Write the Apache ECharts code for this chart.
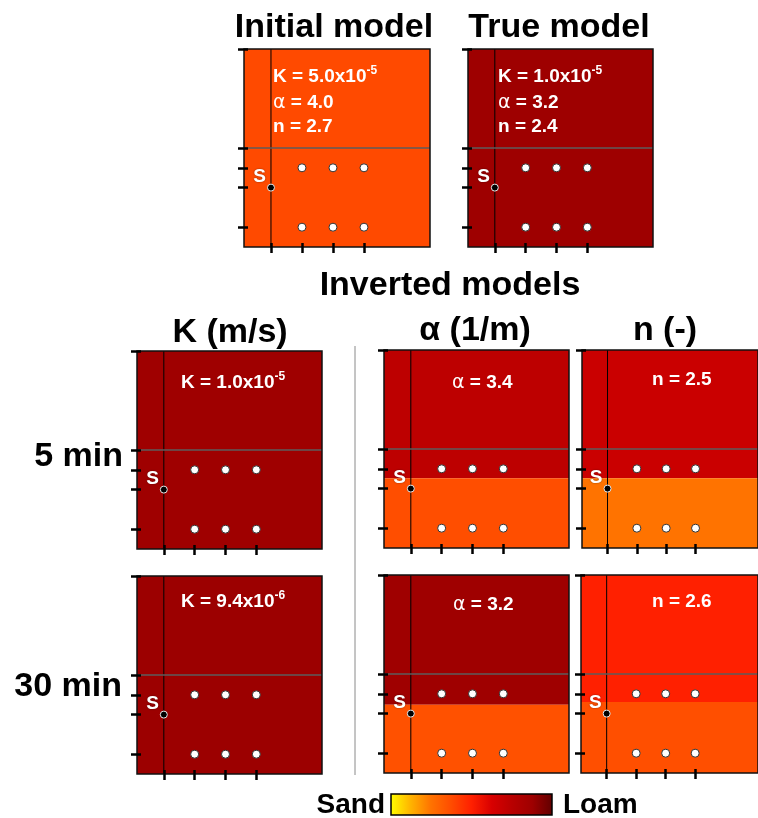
<!DOCTYPE html>
<html>
<head>
<meta charset="utf-8">
<script src="https://cdn.jsdelivr.net/npm/echarts@6/dist/echarts.min.js"></script>
<style>
  html, body { margin: 0; padding: 0; background: #fff; }
  #chart { width: 758px; height: 818px; }
</style>
</head>
<body>
<div id="chart"></div>
<script>
// colour scale, Sand (0) -> Loam (1)
var scaleColors = ['#ffff00', '#ffb400', '#ff7300', '#ff4c00', '#ff2000', '#d80000', '#b80000', '#9e0000', '#600000'];

// model coordinates: horizontal -0.87 .. 5.13, depth -5 .. 5
var xTicks = [0, 1, 2, 3];
var yTicks = [-5, 0, 1, 2, 4];
var receiverX = [1, 2, 3];
var receiverDepth = [1, 4];
var sourcePos = [0, 2];
var surfaceDepth = 0;

// layers per panel: [top depth, bottom depth, scale value]
var initialLayers = [[-5, 5, 0.38]];
var trueLayers = [[-5, 5, 0.875]];
var k5Layers = [[-5, 5, 0.87]];
var a5Layers = [[-5, 1.48, 0.73], [1.48, 5, 0.37]];
var n5Layers = [[-5, 1.48, 0.68], [1.48, 5, 0.25]];
var k30Layers = [[-5, 5, 0.88]];
var a30Layers = [[-5, 1.55, 0.87], [1.55, 5, 0.36]];
var n30Layers = [[-5, 1.41, 0.5], [1.41, 5, 0.365]];

var xMin = -0.87, xMax = 5.13, yMin = -5, yMax = 5;

var panels = [
  { left: 244, top: 49, width: 186, layers: initialLayers },
  { left: 468, top: 49, width: 185, layers: trueLayers },
  { left: 137, top: 351, width: 185, layers: k5Layers },
  { left: 384, top: 350, width: 185, layers: a5Layers },
  { left: 582, top: 350, width: 185, layers: n5Layers },
  { left: 137, top: 576, width: 185, layers: k30Layers },
  { left: 384, top: 575, width: 185, layers: a30Layers },
  { left: 581, top: 575, width: 185, layers: n30Layers }
];

var receivers = [];
receiverDepth.forEach(function (d) {
  receiverX.forEach(function (x) { receivers.push([x, d]); });
});

var font = '"Liberation Sans", Arial, sans-serif';

function renderLayer(params, api) {
  var p0 = api.coord([xMin, api.value(0)]);
  var p1 = api.coord([xMax, api.value(1)]);
  return {
    type: 'rect',
    shape: { x: p0[0], y: p0[1], width: p1[0] - p0[0], height: p1[1] - p0[1] },
    style: { fill: api.visual('color') }
  };
}

var grids = [], xAxes = [], yAxes = [], series = [], layerSeries = [];

panels.forEach(function (p, i) {
  grids.push({
    left: p.left, top: p.top, width: p.width, height: 198,
    show: true, borderColor: '#111', borderWidth: 1.5,
    backgroundColor: 'transparent', z: 10
  });
  xAxes.push({
    gridIndex: i, type: 'value', min: xMin, max: xMax, position: 'bottom', offset: -4, z: 10,
    axisLine: { show: false, onZero: false }, splitLine: { show: false }, axisLabel: { show: false },
    axisTick: { show: true, customValues: xTicks, length: 10, lineStyle: { color: '#000', width: 2.5 } }
  });
  yAxes.push({
    gridIndex: i, type: 'value', min: yMin, max: yMax, inverse: true, position: 'left', offset: -4, z: 10,
    axisLine: { show: false, onZero: false }, splitLine: { show: false }, axisLabel: { show: false },
    axisTick: { show: true, customValues: yTicks, length: 10, lineStyle: { color: '#000', width: 2.5 } }
  });

  layerSeries.push(series.length);
  series.push({
    type: 'custom', xAxisIndex: i, yAxisIndex: i, z: 1, silent: true,
    renderItem: renderLayer, data: p.layers
  });
  series.push({
    type: 'line', xAxisIndex: i, yAxisIndex: i, z: 2, silent: true, symbol: 'none',
    lineStyle: { color: '#000', width: 1 },
    data: [[sourcePos[0], yMin], [sourcePos[0], yMax]]
  });
  series.push({
    type: 'line', xAxisIndex: i, yAxisIndex: i, z: 3, silent: true, symbol: 'none',
    lineStyle: { color: '#5c5c5c', width: 1.5 },
    data: [[xMin, surfaceDepth], [xMax, surfaceDepth]]
  });
  series.push({
    type: 'scatter', xAxisIndex: i, yAxisIndex: i, z: 4, silent: true,
    symbolSize: 8,
    itemStyle: { color: '#fff', borderColor: '#333', borderWidth: 1, opacity: 1 },
    data: receivers
  });
  series.push({
    type: 'scatter', xAxisIndex: i, yAxisIndex: i, z: 5, silent: true,
    symbolSize: 7,
    itemStyle: { color: '#000', borderColor: '#e8e8e8', borderWidth: 1, opacity: 1 },
    label: {
      show: true, formatter: 'S', position: 'left', distance: 1, offset: [0, -11],
      color: '#fff', fontSize: 19, fontWeight: 'bold', fontFamily: font,
      textShadowColor: 'rgba(0,0,0,0.45)', textShadowBlur: 2
    },
    data: [sourcePos]
  });
});

function title(x, y, text, size, align) {
  return {
    type: 'text', x: x, y: y, z: 20,
    style: {
      text: text, font: 'bold ' + size + 'px ' + font, fill: '#000',
      align: align || 'center', verticalAlign: 'middle'
    }
  };
}

var rich = {
  b: { font: 'bold 19px ' + font, fill: '#fff', lineHeight: 24, verticalAlign: 'middle' },
  a: { font: '19px "DejaVu Sans", sans-serif', fill: '#fff', lineHeight: 24, verticalAlign: 'middle' },
  s: { font: 'bold 12px ' + font, fill: '#fff', lineHeight: 13, verticalAlign: 'top' }
};

function label(x, y, text) {
  return {
    type: 'text', x: x, y: y, z: 20,
    style: { text: text, rich: rich, align: 'left', verticalAlign: 'middle', fill: '#fff' }
  };
}

var gradStops = scaleColors.map(function (c, i) {
  return { offset: i / (scaleColors.length - 1), color: c };
});

var graphics = [
  title(334, 28, 'Initial model', 34),
  title(559, 28, 'True model', 34),
  title(450, 286, 'Inverted models', 34),
  title(230, 333, 'K (m/s)', 34),
  title(475, 331, 'α (1/m)', 34),
  title(665, 331, 'n (-)', 34),
  title(123, 457, '5 min', 34, 'right'),
  title(122, 687, '30 min', 34, 'right'),
  label(273, 77, '{b|K = 5.0x10}{s|-5}'),
  label(273, 103, '{a|α}{b| = 4.0}'),
  label(273, 127, '{b|n = 2.7}'),
  label(498, 77, '{b|K = 1.0x10}{s|-5}'),
  label(498, 103, '{a|α}{b| = 3.2}'),
  label(498, 127, '{b|n = 2.4}'),
  label(181, 383, '{b|K = 1.0x10}{s|-5}'),
  label(452, 383, '{a|α}{b| = 3.4}'),
  label(652, 380, '{b|n = 2.5}'),
  label(181, 602, '{b|K = 9.4x10}{s|-6}'),
  label(453, 605, '{a|α}{b| = 3.2}'),
  label(652, 602, '{b|n = 2.6}'),
  {
    type: 'line', z: 20,
    shape: { x1: 355, y1: 346, x2: 355, y2: 775 },
    style: { stroke: '#8a8a8a', lineWidth: 1 }
  },
  {
    type: 'rect', z: 20,
    shape: { x: 391, y: 794, width: 161, height: 21 },
    style: {
      fill: { type: 'linear', x: 0, y: 0, x2: 1, y2: 0, colorStops: gradStops },
      stroke: '#000', lineWidth: 1.5
    }
  },
  title(385, 805, 'Sand', 28, 'right'),
  title(563, 805, 'Loam', 28, 'left')
];

var chart = echarts.init(document.getElementById('chart'));
chart.setOption({
  animation: false,
  backgroundColor: '#fff',
  grid: grids,
  xAxis: xAxes,
  yAxis: yAxes,
  visualMap: {
    type: 'continuous', show: false, min: 0, max: 1, dimension: 2,
    seriesIndex: layerSeries,
    inRange: { color: scaleColors }
  },
  series: series,
  graphic: graphics
});
</script>
</body>
</html>
